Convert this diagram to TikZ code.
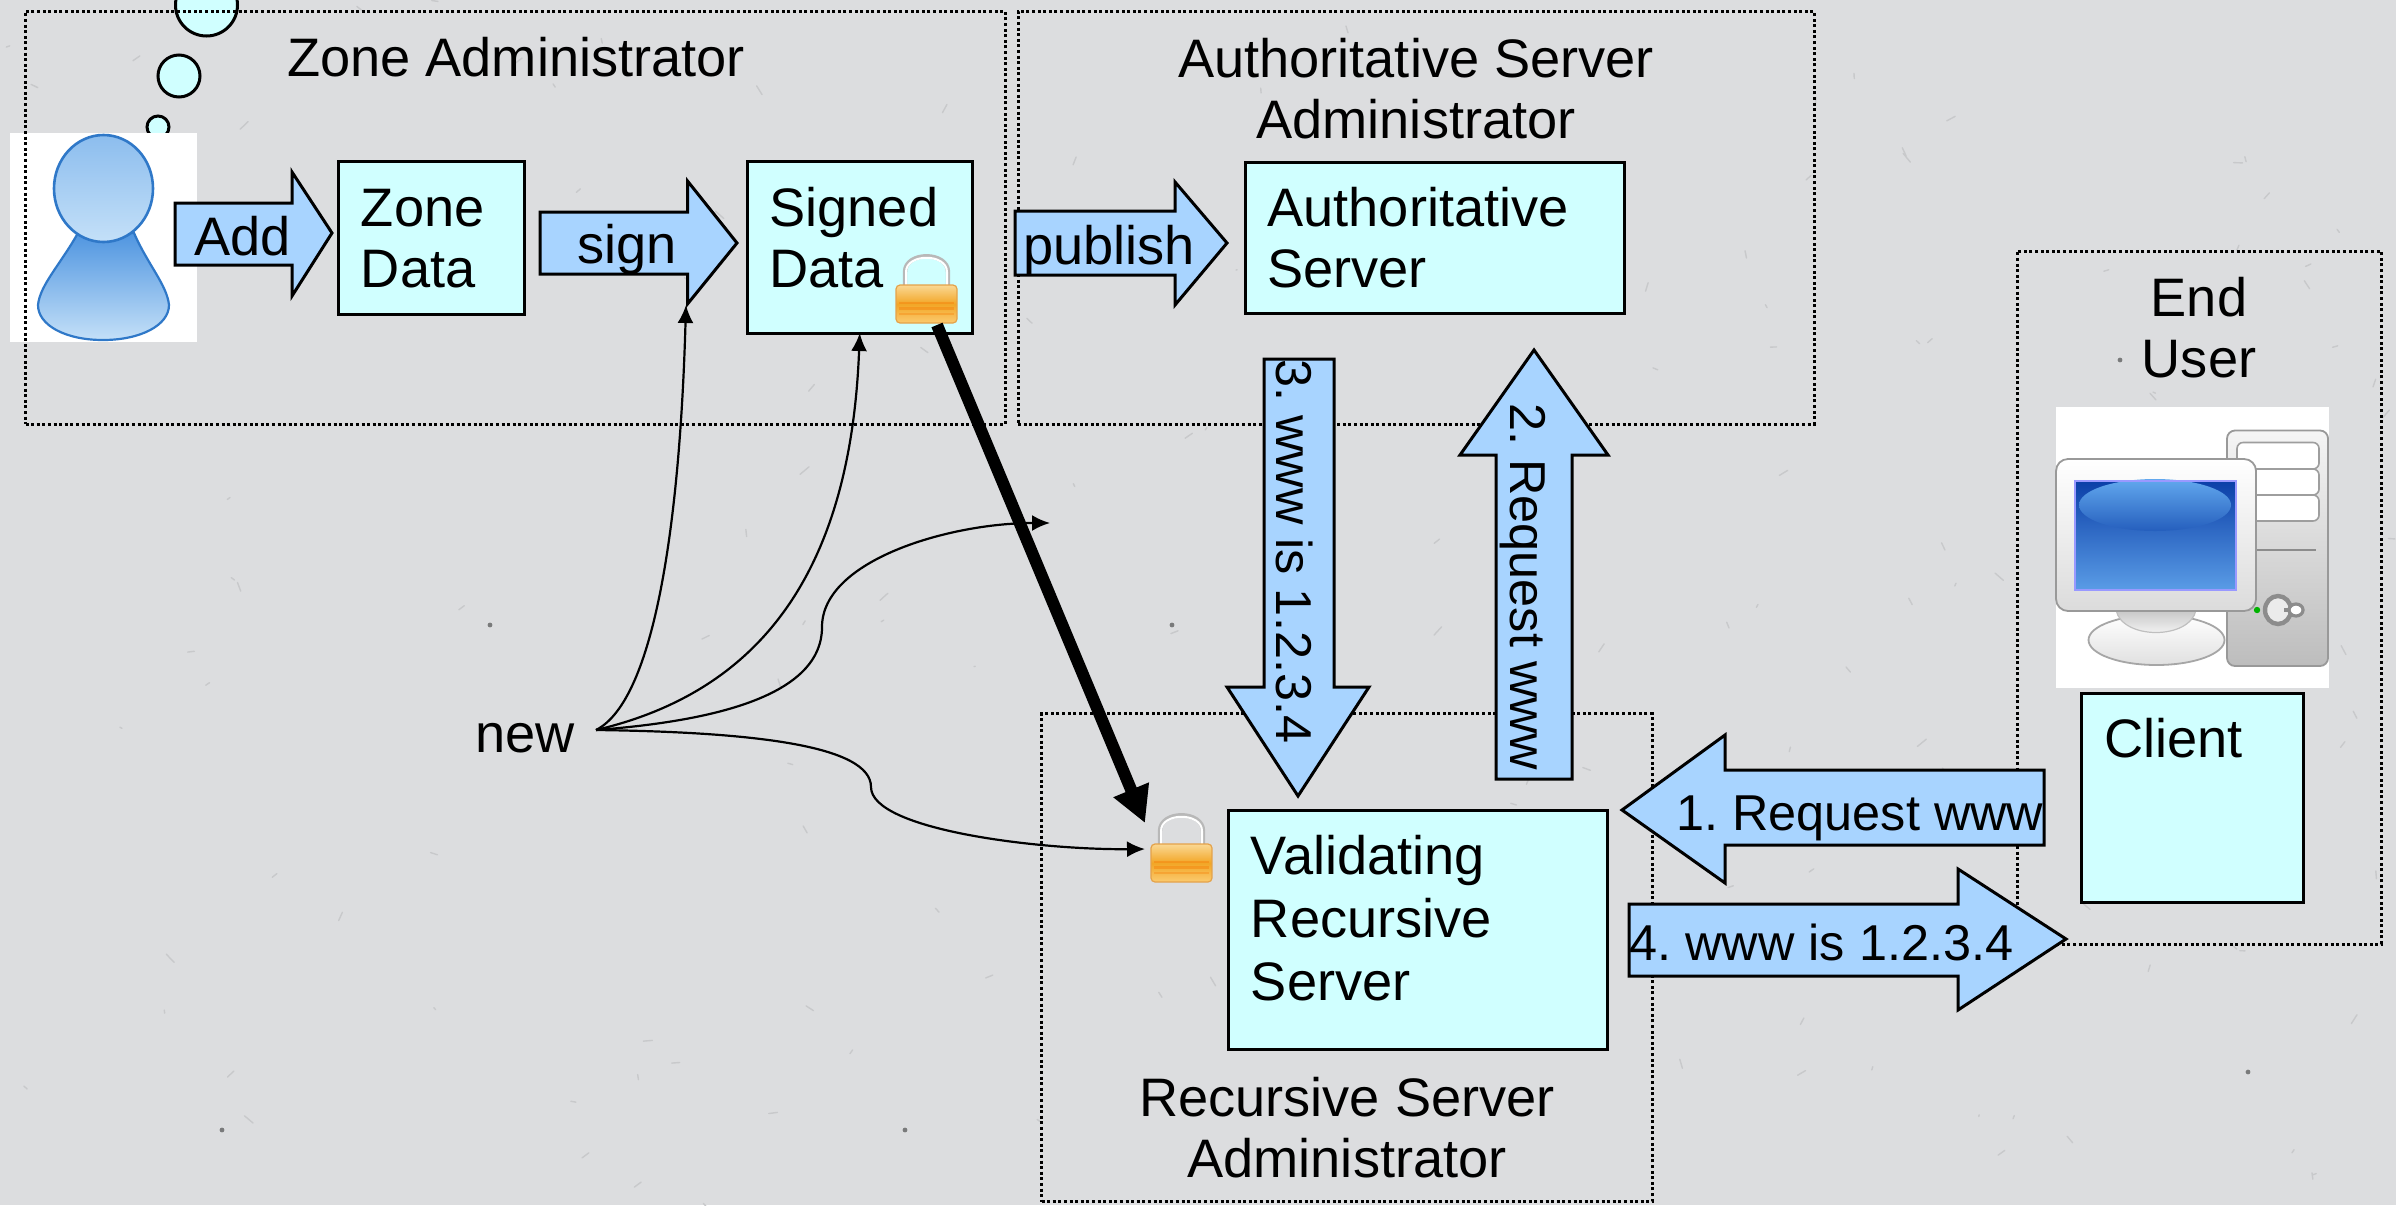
\documentclass[tikz,border=0pt]{standalone}
\usepackage{fontspec}
\setmainfont{Liberation Sans}
\usetikzlibrary{arrows.meta}
\definecolor{bgcol}{HTML}{DCDDDF}
\definecolor{boxfill}{HTML}{D0FFFF}
\definecolor{arrowfill}{HTML}{A8D4FF}
\definecolor{persona}{HTML}{4F95E0}
\definecolor{personb}{HTML}{C4E0F8}
\definecolor{personc}{HTML}{8CBDEE}
\definecolor{personline}{HTML}{2F78C8}
\definecolor{locka}{HTML}{FAD894}
\definecolor{lockb}{HTML}{F2A626}
\definecolor{lockc}{HTML}{FBCB70}
\definecolor{lockline}{HTML}{E4A24A}
\definecolor{screena}{HTML}{0B3FA8}
\definecolor{screenb}{HTML}{5A9CE6}
\definecolor{gloss}{HTML}{62A8EE}
\tikzset{
  box/.style={draw=black,line width=1.5pt,fill=boxfill,inner sep=0pt,outer sep=0pt},
  groupbox/.style={draw=black,line width=1.5pt,dash pattern=on 1.5pt off 1.3pt,inner sep=0pt,outer sep=0pt},
  blockarrow/.style={draw=black,line width=1.5pt,fill=arrowfill,miter limit=10},
  bubble/.style={draw=black,line width=1.5pt,fill=boxfill},
  label/.style={anchor=base west,inner sep=0pt,align=left,font=\fontsize{27.1}{30.5}\selectfont\frenchspacing},
  title/.style={anchor=base,inner sep=0pt,align=center,font=\fontsize{27.1}{30.5}\selectfont\frenchspacing},
  arrowlabel/.style={anchor=base west,inner sep=0pt,font=\fontsize{25.2}{30}\selectfont\frenchspacing},
  curve/.style={draw=black,line width=1.1pt,-{Latex[length=9pt,width=8pt]}},
}
\newcommand{\padlock}[2]{%
  \begin{scope}[shift={(#1,#2)}]
    \draw[line width=2.2pt,draw=black!28] (9,29) -- (9,15) .. controls (9,-6) and (52,-6) .. (52,15) -- (52,29);
    \draw[line width=1pt,draw=white] (10,29) -- (10,15) .. controls (10,-4) and (51,-4) .. (51,15) -- (51,29);
    \shade[rounded corners=2pt,draw=lockline,line width=0.6pt,top color=locka,bottom color=lockc,middle color=lockb] (0,28) rectangle (61,66);
    \fill[orange!85!brown,opacity=.45] (3,45) rectangle (58,47);
    \fill[orange!85!brown,opacity=.45] (3,50) rectangle (58,53);
    \fill[orange!85!brown,opacity=.35] (3,56) rectangle (58,58);
  \end{scope}}
\begin{document}
\begin{tikzpicture}[x=0.5pt,y=-0.5pt]
\useasboundingbox (0,0) rectangle (2396,1205);
\clip (0,0) rectangle (2396,1205);
\fill[bgcol] (0,0) rectangle (2396,1205);
% paper texture
\pgfmathsetseed{4711}
\foreach \i in {1,...,170}{
  \pgfmathsetmacro{\px}{rnd*2396}
  \pgfmathsetmacro{\py}{rnd*1205}
  \pgfmathsetmacro{\dx}{(rnd-0.5)*18}
  \pgfmathsetmacro{\dy}{(rnd-0.5)*18}
  \draw[line width=0.7pt,draw=black!9!bgcol,line cap=round] (\px,\py) -- ++(\dx,\dy);
}
\foreach \px/\py in {490/625,1172/625,222/1130,905/1130,1560/1045,2248/1072,2120/360}{
  \fill[black!45!bgcol] (\px,\py) circle (1.2pt);
}

% thought bubbles and white picture grounds
\draw[bubble] (206.5,5) circle (15.5pt);
\draw[bubble] (179,76) ellipse (10.5pt and 10.5pt);
\draw[bubble] (158,127) circle (5.5pt);
\fill[white] (10,133) rectangle (197,342);
\fill[white] (2056,406.5) rectangle (2329,687.5);

% group frames
\node[groupbox,minimum width=489.75pt,minimum height=206.5pt] (zonegroup) at (515.25,217.5) {};
\node[groupbox,minimum width=398pt,minimum height=206.5pt] (authgroup) at (1416,217.5) {};
\node[groupbox,minimum width=305.25pt,minimum height=244pt] (recgroup) at (1346.75,957.5) {};
\node[groupbox,minimum width=182pt,minimum height=346.5pt] (endgroup) at (2199,597.5) {};

% person
\shade[draw=personline,line width=1.1pt,top color=persona,bottom color=personb]
  (78,233) .. controls (60,265) and (40,285) .. (38,305) .. controls (38,325) and (65,340) .. (103,340)
  .. controls (141,340) and (169,325) .. (169,305) .. controls (167,285) and (148,265) .. (134,233) -- cycle;
\shade[draw=personline,line width=1.3pt,top color=personc,middle color=persona,bottom color=personb]
  (103.5,188.5) ellipse (24.75pt and 26.75pt);

% computer
\shade[draw=black!40,line width=0.9pt,rounded corners=4pt,top color=black!4,bottom color=black!26] (2227,430.5) rectangle (2328,666);
\foreach \ya/\yb in {442.5/469,469/495,495/521}{
  \draw[draw=black!38,line width=0.8pt,fill=white,rounded corners=3pt] (2237,\ya) rectangle (2319,\yb);
}
\draw[black!45,line width=1pt] (2256,550) -- (2316,550);
\draw[black!45,line width=2.2pt,fill=black!8] (2278,610) ellipse (6.5pt and 7pt);
\draw[black!45,line width=1.6pt,fill=white] (2296,610) ellipse (3.5pt and 3pt);
\draw[black!45,line width=1.6pt] (2284,610) -- (2290,610);
\shade[draw=black!35,line width=0.9pt,top color=white,bottom color=black!12] (2156.5,640) ellipse (34pt and 12.5pt);
\shade[draw=black!25,line width=0.6pt,top color=black!22,bottom color=white] (2116,610) .. controls (2122,640) and (2190,640) .. (2196,610) -- cycle;
\shade[draw=black!40,line width=0.9pt,rounded corners=6pt,top color=white,bottom color=black!14] (2056,459) rectangle (2256,611);
\shade[top color=screena,bottom color=screenb] (2075,481) rectangle (2236,590);
\shade[top color=gloss,bottom color=screena!70!gloss] (2155,505) ellipse (38pt and 13pt);
\draw[white!60!blue,line width=0.6pt] (2075,481) rectangle (2236,590);
\fill[green!70!black] (2257,610) circle (1.6pt);

% boxes
\node[box,minimum width=93pt,minimum height=76.5pt] (zonedata) at (431,237.5) {};
\node[box,minimum width=112.75pt,minimum height=86pt] (signed) at (859.75,247) {};
\node[box,minimum width=189.5pt,minimum height=75.5pt] (auth) at (1434.5,237.5) {};
\node[box,minimum width=189.5pt,minimum height=119.5pt] (valid) at (1417.5,929.5) {};
\node[box,minimum width=111pt,minimum height=104.5pt] (client) at (2192,797.5) {};

% block arrows
\draw[blockarrow] (175,203) -- (292,203) -- (292,172) -- (332,233) -- (292,296) -- (292,265) -- (175,265) -- cycle;
\draw[blockarrow] (540,212) -- (687.5,212) -- (687.5,181) -- (737,243) -- (687.5,304) -- (687.5,274) -- (540,274) -- cycle;
\draw[blockarrow] (1015,211) -- (1175,211) -- (1175,182) -- (1227,243) -- (1175,305) -- (1175,275) -- (1015,275) -- cycle;
\draw[blockarrow] (1264,359) -- (1334,359) -- (1334,687) -- (1369,687) -- (1298,796) -- (1227,687) -- (1264,687) -- cycle;
\draw[blockarrow] (1496,779) -- (1572,779) -- (1572,455) -- (1608,455) -- (1534,350) -- (1460,455) -- (1496,455) -- cycle;
\draw[blockarrow] (2044,770) -- (1725,770) -- (1725,735) -- (1622,810) -- (1725,883) -- (1725,845) -- (2044,845) -- cycle;
\draw[blockarrow] (1629,904) -- (1958,904) -- (1958,869) -- (2066,939) -- (1958,1010) -- (1958,976) -- (1629,976) -- cycle;

% padlocks
\padlock{896}{257}
\padlock{1151}{816}

% texts
\node[title] (zonetitle) at (516,76) {Zone Administrator};
\node[title] (authtitle) at (1416,138) {Authoritative Server\\Administrator};
\node[title] (rectitle) at (1347,1177) {Recursive Server\\Administrator};
\node[title] (endtitle) at (2199,377) {End\\User};
\node[label] (zonetext) at (360.5,287) {Zone\\Data};
\node[label] (signedtext) at (769,287) {Signed\\Data};
\node[label] (authtext) at (1267,287) {Authoritative\\Server};
\node[label,font=\fontsize{27.1}{31.5}\selectfont] (validtext) at (1250.5,1000) {Validating\\Recursive\\Server};
\node[label] (clienttext) at (2104,757) {Client};
\node[label] (new) at (475,752) {new};
\node[label] (addtext) at (194,255) {Add};
\node[label] (signtext) at (577,263) {sign};
\node[label] (publishtext) at (1023,264) {publish};
\node[arrowlabel,rotate=-90] (step3) at (1276,359) {3. www is 1.2.3.4};
\node[arrowlabel,rotate=-90] (step2) at (1510,403) {2. Request www};
\node[arrowlabel] (step1) at (1676,830) {1. Request www};
\node[arrowlabel] (step4) at (1629,960) {4. www is 1.2.3.4};

% connectors
\coordinate (newout) at (596,730);
\coordinate (signtip) at (686,305);
\coordinate (freetip) at (1050,523);
\coordinate (locktip) at (1145,849);
\coordinate (thickstart) at (937,325);
\coordinate (thicktip) at (1145,823);
\draw[curve] (newout) .. controls (655,700) and (680,520) .. (signtip);
\draw[curve] (newout) .. controls (745,695) and (850,590) .. (signed.south);
\draw[curve] (newout) .. controls (700,722) and (822,700) .. (822,627) .. controls (822,560) and (950,523) .. (freetip);
\draw[curve] (newout) .. controls (750,732) and (871,745) .. (871,787) .. controls (871,830) and (1040,850) .. (locktip);
\draw[line width=6pt,-{Triangle[length=18pt,width=18pt]}] (thickstart) -- (thicktip);
\end{tikzpicture}
\end{document}
